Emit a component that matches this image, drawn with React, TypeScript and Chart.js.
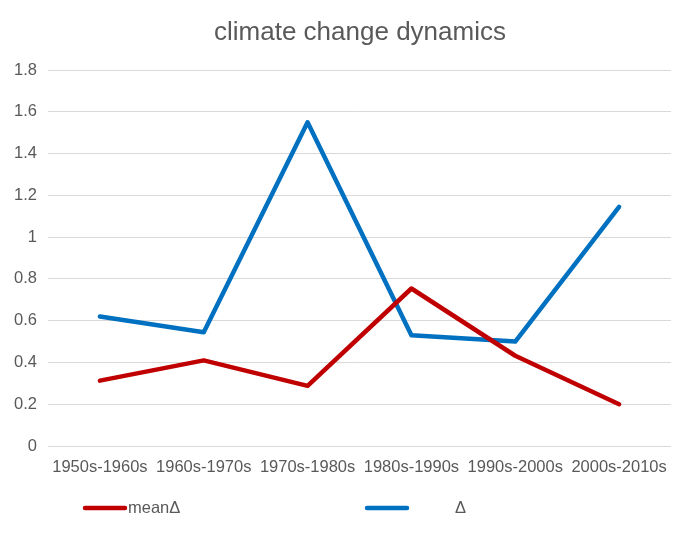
import React, { useEffect, useRef } from "react";
import { Chart, registerables } from "chart.js";

Chart.register(...registerables);

const categories = [
  "1950s-1960s",
  "1960s-1970s",
  "1970s-1980s",
  "1980s-1990s",
  "1990s-2000s",
  "2000s-2010s",
];
const meanDelta = [0.313, 0.41, 0.288, 0.754, 0.432, 0.2];
const delta = [0.62, 0.545, 1.55, 0.53, 0.5, 1.145];
const seriesNames = ["meanΔ", "Δ"];
const yMin = 0;
const yMax = 1.8;
const yStep = 0.2;
const titleText = "climate change dynamics";

const FONT = "'Liberation Sans', Arial, sans-serif";
const TEXT = "#595959";

const decorPlugin = {
  id: "decor",
  afterDraw(chart: any) {
    const ctx = chart.ctx;
    // title
    ctx.save();
    ctx.fillStyle = TEXT;
    ctx.font = `26px ${FONT}`;
    ctx.textAlign = "center";
    ctx.textBaseline = "middle";
    ctx.fillText(titleText, 360, 33);
    ctx.restore();
    // legend
    const y = 508;
    const slots = [
      { x0: 85, x1: 125, tx: 128 },
      { x0: 367, x1: 407, tx: 455 },
    ];
    chart.data.datasets.forEach((ds: any, i: number) => {
      const s = slots[i];
      if (!s) return;
      ctx.save();
      ctx.strokeStyle = ds.borderColor;
      ctx.lineWidth = 4.5;
      ctx.lineCap = "round";
      ctx.beginPath();
      ctx.moveTo(s.x0, y);
      ctx.lineTo(s.x1, y);
      ctx.stroke();
      ctx.fillStyle = TEXT;
      ctx.font = `16.5px ${FONT}`;
      ctx.textBaseline = "middle";
      ctx.textAlign = "left";
      ctx.fillText(ds.label, s.tx, y);
      ctx.restore();
    });
  },
};

export default function App() {
  const ref = useRef<HTMLCanvasElement | null>(null);
  useEffect(() => {
    document.body.style.margin = "0";
    const canvas = ref.current;
    if (!canvas) return;
    const chart = new Chart(canvas, {
      type: "line",
      data: {
        labels: categories,
        datasets: [
          {
            label: seriesNames[0],
            data: meanDelta,
            borderColor: "#C00000",
            backgroundColor: "#C00000",
            borderWidth: 4.5,
            pointRadius: 0,
            tension: 0,
            borderJoinStyle: "round",
            borderCapStyle: "round",
          },
          {
            label: seriesNames[1],
            data: delta,
            borderColor: "#0070C0",
            backgroundColor: "#0070C0",
            borderWidth: 4.5,
            pointRadius: 0,
            tension: 0,
            borderJoinStyle: "round",
            borderCapStyle: "round",
          },
        ],
      },
      options: {
        responsive: false,
        animation: false,
        devicePixelRatio: 1,
        layout: { padding: { left: 0, right: 19, top: 70, bottom: 49 } },
        plugins: {
          legend: { display: false },
          tooltip: { enabled: false },
          title: { display: false },
        },
        scales: {
          x: {
            offset: true,
            grid: { display: false, drawTicks: false },
            border: { display: false },
            ticks: {
              color: TEXT,
              font: { family: FONT, size: 16.5 },
              padding: 12,
              maxRotation: 0,
              autoSkip: false,
            },
            afterFit: (s: any) => {
              s.height = 40;
            },
          },
          y: {
            min: yMin,
            max: yMax,
            grid: { color: "#D9D9D9", lineWidth: 1, drawTicks: false },
            border: { display: false },
            ticks: {
              stepSize: yStep,
              color: TEXT,
              font: { family: FONT, size: 16.5 },
              padding: 11,
              callback: (v: any) => String(Math.round(Number(v) * 10) / 10),
            },
            afterFit: (s: any) => {
              s.width = 48;
            },
          },
        },
      },
      plugins: [decorPlugin],
    });
    return () => chart.destroy();
  }, []);
  return (
    <div style={{ width: 690, height: 535 }}>
      <canvas ref={ref} width={690} height={535} style={{ display: "block" }} />
    </div>
  );
}
